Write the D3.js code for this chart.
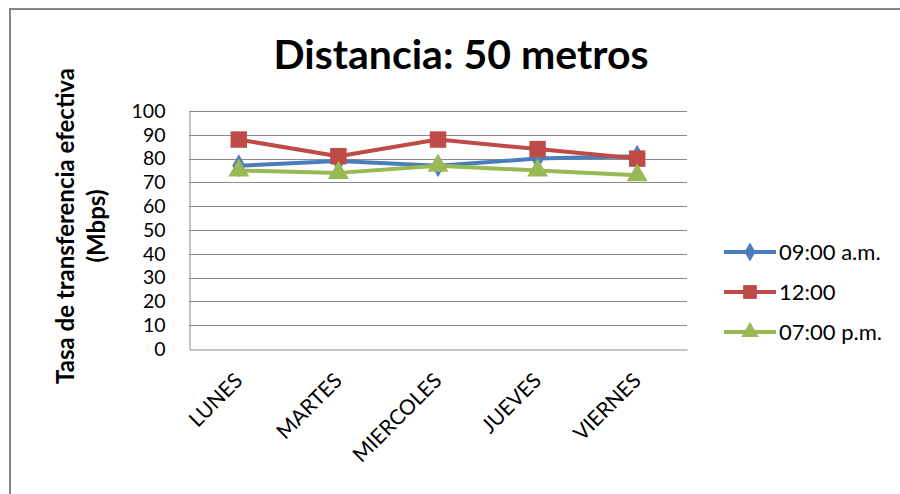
<!DOCTYPE html>
<html>
<head>
<meta charset="utf-8">
<script src="https://cdn.jsdelivr.net/npm/d3@7"></script>
<style>
  body { margin: 0; background: #fff; }
  svg { display: block; font-family: Lato, "Open Sans", sans-serif; }
</style>
</head>
<body>
<svg width="900" height="494"></svg>
<script>
// data
const days = ['LUNES', 'MARTES', 'MIERCOLES', 'JUEVES', 'VIERNES']
const am09 = [77, 79, 77, 80, 81]
const noon = [88, 81, 88, 84, 80]
const pm07 = [75, 74, 77, 75, 73]
const seriesNames = ['09:00 a.m.', '12:00', '07:00 p.m.']
const yTicks = [0, 10, 20, 30, 40, 50, 60, 70, 80, 90, 100]

const colors = ['#4A7EBB', '#BE4B48', '#98B954']
const shapes = [d3.symbolDiamond, d3.symbolSquare, d3.symbolTriangle]
const sizes = [150, 270, 190]
const seriesVals = [am09, noon, pm07]

let svg = d3.select('svg')

// chart border
svg.append('rect')
  .attr('x', 10).attr('y', 9)
  .attr('width', 900).attr('height', 500)
  .attr('fill', 'none').attr('stroke', '#868686').attr('stroke-width', 2)

// scales
let x = d3.scaleBand().domain(days).range([189, 687])
let y = d3.scaleLinear().domain([0, 100]).range([349, 111])

// grid
svg.append('g')
  .selectAll('line')
  .data(yTicks.filter(d => d > 0))
  .join('line')
  .attr('x1', 189).attr('x2', 687)
  .attr('y1', d => Math.round(y(d)) + 0.5).attr('y2', d => Math.round(y(d)) + 0.5)
  .attr('stroke', '#8a8a8a').attr('stroke-width', 1)

// y axis
let yAxis = svg.append('g')
  .attr('transform', 'translate(189.5,0)')
  .call(d3.axisLeft(y).tickValues(yTicks).tickSize(0).tickPadding(24))
yAxis.select('.domain').attr('stroke', '#8a8a8a')
yAxis.selectAll('text').attr('font-size', 19.5).attr('fill', '#000').attr('font-family', 'Lato, sans-serif')

// x axis
let xAxis = svg.append('g')
  .attr('transform', 'translate(0,349.5)')
  .call(d3.axisBottom(x).tickSize(0).tickFormat(''))
xAxis.select('.domain').attr('stroke', '#8a8a8a')

svg.append('g')
  .selectAll('text')
  .data(days)
  .join('text')
  .attr('transform', d => `translate(${x(d) + x.bandwidth() / 2 + 5},${382}) rotate(-45)`)
  .attr('text-anchor', 'end')
  .attr('font-size', 21)
  .text(d => d)

// lines and markers
seriesVals.forEach((vals, i) => {
  let pts = vals.map((v, j) => [x(days[j]) + x.bandwidth() / 2, y(v)])
  svg.append('path')
    .attr('d', d3.line()(pts))
    .attr('fill', 'none')
    .attr('stroke', colors[i])
    .attr('stroke-width', 4)
    .attr('stroke-linejoin', 'round')
  svg.append('g')
    .selectAll('path')
    .data(pts)
    .join('path')
    .attr('transform', p => `translate(${p[0]},${p[1]})`)
    .attr('d', d3.symbol().type(shapes[i]).size(sizes[i]))
    .attr('fill', colors[i])
})

// legend
let legY = [252, 292, 332]
seriesNames.forEach((name, i) => {
  let g = svg.append('g').attr('transform', `translate(724,${legY[i]})`)
  g.append('line').attr('x1', 0).attr('x2', 52)
    .attr('stroke', colors[i]).attr('stroke-width', 4)
  g.append('path').attr('transform', 'translate(26,0)')
    .attr('d', d3.symbol().type(shapes[i]).size(sizes[i] * 0.7))
    .attr('fill', colors[i])
  g.append('text').attr('x', 55).attr('dy', '0.36em')
    .attr('font-size', 22).text(name)
})

// title
svg.append('text')
  .attr('x', 461).attr('y', 69)
  .attr('text-anchor', 'middle')
  .attr('font-size', 41).attr('font-weight', 'bold')
  .text('Distancia: 50 metros')

// y title
let yt = svg.append('text')
  .attr('transform', 'translate(74,226) rotate(-90)')
  .attr('text-anchor', 'middle')
  .attr('font-size', 24).attr('font-weight', 'bold')
yt.append('tspan').attr('x', 0).attr('dy', 0).text('Tasa de transferencia efectiva')
yt.append('tspan').attr('x', 0).attr('dy', 31).text('(Mbps)')
</script>
</body>
</html>
